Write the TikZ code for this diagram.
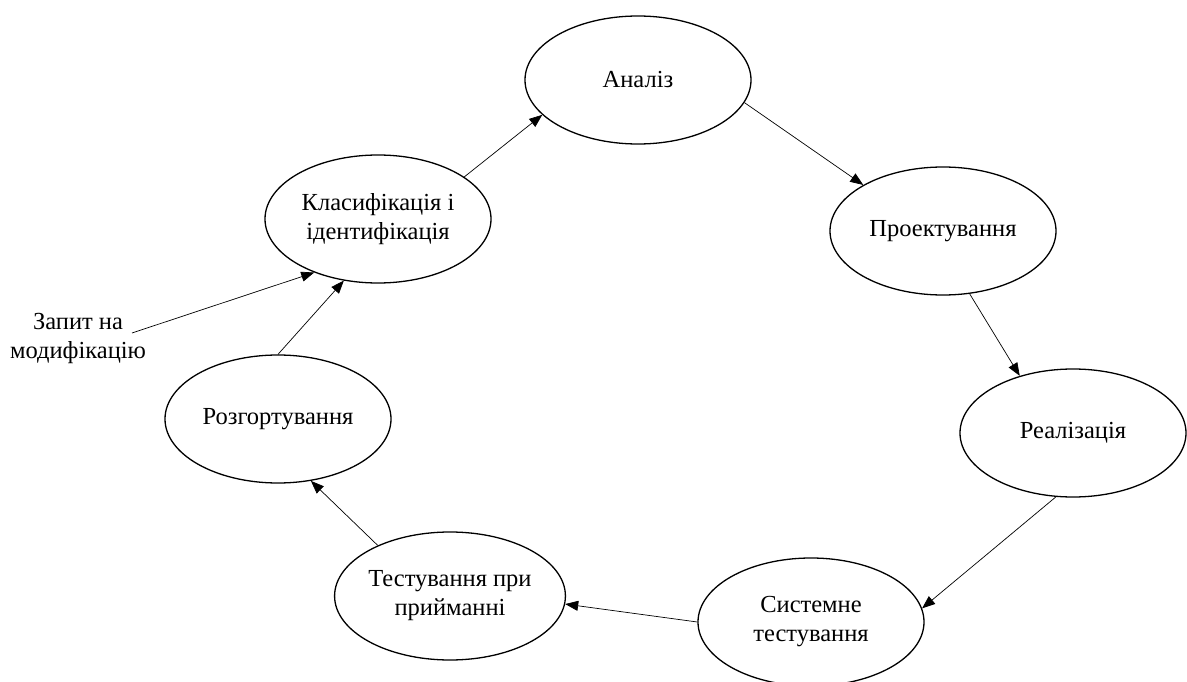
\documentclass[tikz,border=0pt]{standalone}
\usepackage{fontspec}
\setmainfont{Liberation Serif}
\usetikzlibrary{shapes.geometric,arrows.meta}
\begin{document}
\begin{tikzpicture}[x=1pt,y=-1pt,
  stage/.style={ellipse,draw,line width=1.3pt,minimum width=226pt,minimum height=128pt,inner sep=0pt,align=center,font=\fontsize{24.5}{29}\selectfont},
  flow/.style={line width=0.7pt,-{Triangle[length=13pt,width=10pt]}},
  lbl/.style={align=center,font=\fontsize{24.5}{29}\selectfont,inner sep=0pt}]
\useasboundingbox (0,0) rectangle (1187,682);
\clip (0,0) rectangle (1187,682);
\node[stage] (anal) at (638,80) {Аналіз};
\node[stage] (proj) at (943,231) {Проектування};
\node[stage] (real) at (1073,433) {Реалізація};
\node[stage] (sys) at (811,622) {Системне\\тестування};
\node[stage] (test) at (450,596) {Тестування при\\прийманні};
\node[stage] (rozg) at (278,419) {Розгортування};
\node[stage] (klas) at (378,219) {Класифікація і\\ідентифікація};
\node[lbl] (zapyt) at (78,338) {Запит на\\модифікацію};
\coordinate (zstart) at (132,333);
\draw[flow] (klas.26) -- (anal.200);
\draw[flow] (anal.348) -- (proj.150);
\draw[flow] (proj.293) -- (real.133);
\draw[flow] (real.255) -- (sys.7);
\draw[flow] (sys.180) -- (test.356);
\draw[flow] (test.145) -- (rozg.298);
\draw[flow] (rozg.90) -- (klas.241);
\draw[flow] (zstart) -- (klas.220);
\end{tikzpicture}
\end{document}
